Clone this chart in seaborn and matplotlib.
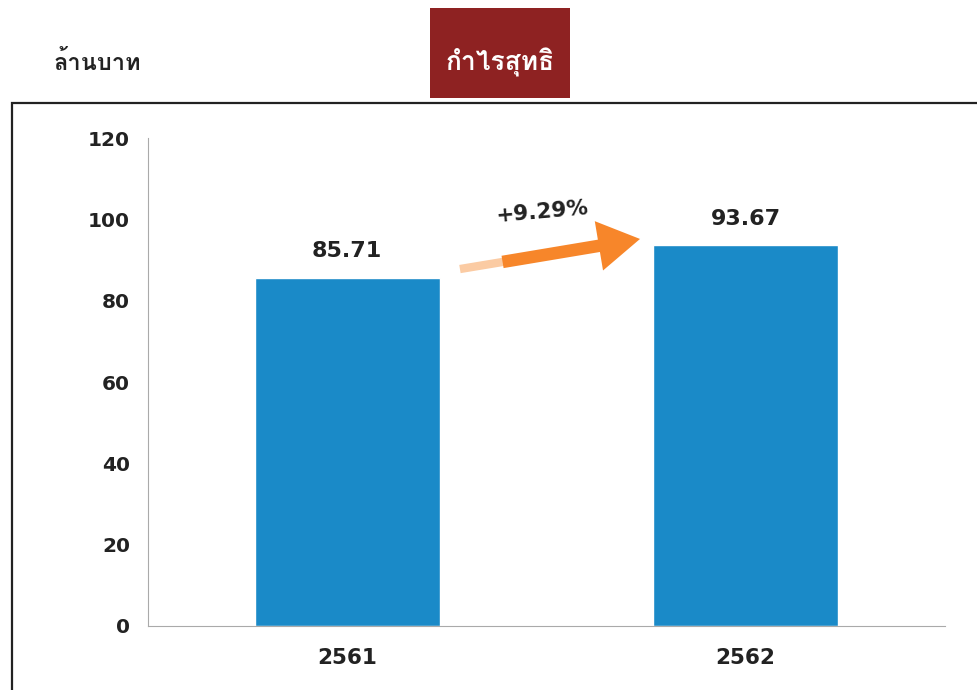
import numpy as np
import pandas as pd
import seaborn as sns
import matplotlib.pyplot as plt
from matplotlib import font_manager
from matplotlib.patches import Rectangle
from fontTools.ttLib import TTFont

# ข้อมูล
years = ["2561", "2562"]
profit = [85.71, 93.67]
growth_label = "+9.29%"
unit_label = "ล้านบาท"
title_label = "กำไรสุทธิ"
y_ticks = [0, 20, 40, 60, 80, 100, 120]


# หา font ที่มีตัวอักษรไทย
def find_thai_font():
    for f in font_manager.fontManager.ttflist:
        try:
            tt = TTFont(f.fname, fontNumber=0, lazy=True)
            cmap = tt.getBestCmap()
            if cmap and ord("ก") in cmap and ord("ำ") in cmap:
                return f.name
        except Exception:
            continue
    return None


sns.set_style("white")
thai = find_thai_font()
fams = ["DejaVu Sans"] + ([thai] if thai else [])
plt.rcParams["font.family"] = fams

df = pd.DataFrame({"year": years, "profit": profit})

fig = plt.figure(figsize=(9.77, 6.9), dpi=100)
ax = fig.add_axes([0.1515, 0.0928, 0.8155, 0.707])

sns.barplot(data=df, x="year", y="profit", color="#1A8AC8", width=0.465,
            saturation=1, ax=ax)

ax.set_ylim(0, 120)
ax.set_xlim(-0.5, 1.5)
ax.set_yticks(y_ticks)
ax.set_xlabel("")
ax.set_ylabel("")
ax.tick_params(axis="y", labelsize=14.5, pad=9, length=4, color="#bbbbbb")
ax.tick_params(axis="x", labelsize=15.5, pad=16, length=0)
for lbl in ax.get_yticklabels() + ax.get_xticklabels():
    lbl.set_fontweight("bold")
    lbl.set_color("#222222")

sns.despine(ax=ax, top=True, right=True)
ax.spines["left"].set_color("#aaaaaa")
ax.spines["bottom"].set_color("#aaaaaa")

# ค่าบนแท่ง
for i, v in enumerate(profit):
    ax.text(i, v + 4, f"{v:.2f}", ha="center", va="bottom", fontsize=16,
            fontweight="bold", color="#222222")

# ลูกศรเพิ่มขึ้น (หางสีอ่อนทางซ้าย)
ax.annotate("", xy=(0.40, 89.7), xytext=(0.283, 87.8),
            arrowprops=dict(arrowstyle="-", lw=6, color="#FBCBA3",
                            shrinkA=0, shrinkB=0, capstyle="butt"))
ax.annotate("", xy=(0.735, 95.2), xytext=(0.39, 89.55),
            arrowprops=dict(arrowstyle="simple,head_length=1.5,head_width=1.8,tail_width=0.45",
                            mutation_scale=20, color="#F7862A", lw=0,
                            shrinkA=0, shrinkB=0))
ax.text(0.49, 101.8, growth_label, ha="center", va="center", fontsize=15.5,
        fontweight="bold", color="#222222", rotation=5)

# กรอบรอบกราฟ
fig.patches.append(Rectangle((12 / 977, -0.05), 1.0, 0.05 + (690 - 103) / 690,
                             transform=fig.transFigure, fill=False,
                             edgecolor="#222222", lw=1.6))

# กล่องหัวข้อ
fig.patches.append(Rectangle((430 / 977, (690 - 98) / 690), 140 / 977, 90 / 690,
                             transform=fig.transFigure, facecolor="#8E2222",
                             edgecolor="none"))
fig.text(500 / 977, (690 - 62) / 690, title_label, ha="center", va="center",
         fontsize=19, fontweight="bold", color="white")
fig.text(97 / 977, (690 - 63) / 690, unit_label, ha="center", va="center",
         fontsize=17, fontweight="bold", color="#222222")

fig.savefig("out.png", dpi=100)
